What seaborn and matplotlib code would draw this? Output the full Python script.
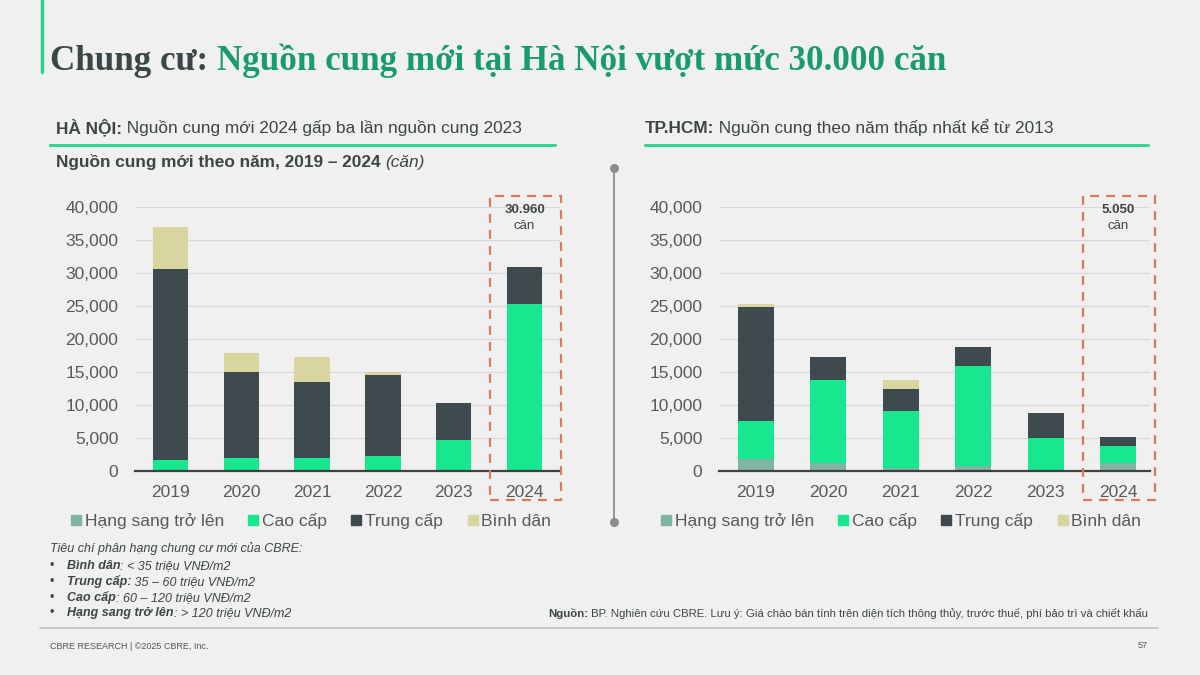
import matplotlib
matplotlib.use("Agg")
import matplotlib.pyplot as plt
import seaborn as sns
import numpy as np
from matplotlib.lines import Line2D
from matplotlib.patches import Rectangle
import matplotlib.transforms as mtrans

# ---------------- data ----------------
years = ["2019", "2020", "2021", "2022", "2023", "2024"]
segments = ["Hạng sang trở lên", "Cao cấp", "Trung cấp", "Bình dân"]
seg_colors = ["#7fb5a2", "#17e88f", "#3e4a4d", "#d8d59e"]

hn_hang_sang = [0, 0, 0, 0, 0, 0]
hn_cao_cap = [1700, 2000, 2000, 2200, 4650, 25300]
hn_trung_cap = [29000, 13000, 11500, 12400, 5600, 5660]
hn_binh_dan = [6300, 2900, 3700, 400, 0, 0]

hcm_hang_sang = [1800, 1100, 400, 700, 0, 1200]
hcm_cao_cap = [5800, 12700, 8600, 15250, 4950, 2550]
hcm_trung_cap = [17300, 3500, 3400, 2800, 3750, 1300]
hcm_binh_dan = [450, 0, 1300, 0, 0, 0]

yticks = [0, 5000, 10000, 15000, 20000, 25000, 30000, 35000, 40000]
hn_total_label = "30.960"
hcm_total_label = "5.050"

# ---------------- style ----------------
sns.set_theme(style="white")
plt.rcParams["font.family"] = ["Liberation Sans", "DejaVu Sans"]

W, H = 1200, 675
fig = plt.figure(figsize=(12, 6.75), dpi=100)
BG = "#f0f0f0"
fig.patch.set_facecolor(BG)

def fx(px):
    return px / W

def fy(py):
    return 1 - py / H

TXT = "#3d4545"
TICK = "#595959"


def draw_chart(ax, layers, xlim, total_label):
    ax.set_facecolor("none")
    cum = np.zeros(len(years))
    cums = []
    for vals in layers:
        cum = cum + np.array(vals, dtype=float)
        cums.append(cum.copy())
    # draw tallest (cumulative) first, then overlay lower segments
    for i in range(len(layers) - 1, -1, -1):
        sns.barplot(x=years, y=cums[i], color=seg_colors[i], width=0.5,
                    saturation=1, errorbar=None, ax=ax, zorder=3,
                    linewidth=0, edgecolor="none")
    ax.set_ylim(0, 40000)
    ax.set_xlim(*xlim)
    ax.set_yticks(yticks)
    ax.set_yticklabels([f"{v:,}" for v in yticks])
    ax.grid(axis="y", color="#d9d9d9", linewidth=0.9, zorder=0)
    ax.grid(axis="x", visible=False)
    for s in ["top", "right", "left"]:
        ax.spines[s].set_visible(False)
    ax.spines["bottom"].set_color("#404040")
    ax.spines["bottom"].set_linewidth(1.6)
    ax.spines["bottom"].set_zorder(4)
    ax.tick_params(axis="y", length=0, pad=12, labelsize=12.5, labelcolor=TICK)
    ax.tick_params(axis="x", length=0, pad=10.5, labelsize=12.5, labelcolor=TICK)
    ax.set_xlabel("")
    ax.set_ylabel("")
    # highlight box around the last year
    idx = len(years) - 1
    trans = mtrans.blended_transform_factory(ax.transData, ax.transAxes)
    rect = Rectangle((idx - 0.49, -0.112), 1.0, 1.155, transform=trans,
                     fill=False, edgecolor="#d9785c", linewidth=1.6,
                     linestyle=(0, (4, 3.2)), clip_on=False, zorder=5)
    ax.add_patch(rect)
    ax.text(idx, 0.99, total_label, transform=trans, ha="center", va="center",
            fontsize=9.5, fontweight="bold", color=TXT)
    ax.text(idx, 0.93, "căn", transform=trans, ha="center", va="center",
            fontsize=9.5, color=TXT)


ax1 = fig.add_axes([fx(135), fy(470.7), 425 / W, 263.4 / H])
draw_chart(ax1, [hn_hang_sang, hn_cao_cap, hn_trung_cap, hn_binh_dan],
           (-0.5, 5.5), hn_total_label)

ax2 = fig.add_axes([fx(719), fy(470.7), 431 / W, 263.4 / H])
draw_chart(ax2, [hcm_hang_sang, hcm_cao_cap, hcm_trung_cap, hcm_binh_dan],
           (-0.51, 5.44), hcm_total_label)

# legends
handles = [Line2D([], [], marker="s", linestyle="none", markersize=7,
                  color=c) for c in seg_colors]
for cx in (310, 900):
    fig.legend(handles, segments, loc="center",
               bbox_to_anchor=(fx(cx), fy(521)), ncol=4, frameon=False,
               fontsize=12.5, handletextpad=0.1, columnspacing=1.3,
               handlelength=0.8, labelcolor=TICK, borderaxespad=0)

# ---------------- title ----------------
fig.add_artist(Line2D([fx(42), fx(42)], [fy(0), fy(72)], color="#2bd68a",
                      linewidth=2.5))
TSIZE = 25.2
t1 = fig.text(fx(50), fy(70), "Chung cư: ", fontsize=TSIZE, fontweight="bold",
              family=["Liberation Serif", "DejaVu Serif"], color="#3b4747",
              va="baseline", ha="left")
fig.canvas.draw()
r = fig.canvas.get_renderer()
bb = t1.get_window_extent(renderer=r)
fig.text(bb.x1 / fig.bbox.width, fy(70),
         "Nguồn cung mới tại Hà Nội vượt mức 30.000 căn", fontsize=TSIZE,
         fontweight="bold", family=["Liberation Serif", "DejaVu Serif"],
         color="#1a9b6e", va="baseline", ha="left")


def two_part(x, y, bold, normal, size):
    a = fig.text(x, y, bold, fontsize=size, fontweight="bold", color=TXT,
                 va="baseline", ha="left")
    fig.canvas.draw()
    b = a.get_window_extent(renderer=fig.canvas.get_renderer())
    c = fig.text(b.x1 / fig.bbox.width, y, normal, fontsize=size,
                 color=TXT, va="baseline", ha="left")
    return c

two_part(fx(56), fy(133), "HÀ NỘI:", " Nguồn cung mới 2024 gấp ba lần nguồn cung 2023", 12.4)
two_part(fx(645), fy(133), "TP.HCM:", " Nguồn cung theo năm thấp nhất kể từ 2013", 12.4)
fig.add_artist(Line2D([fx(50), fx(555)], [fy(145), fy(145)], color="#33d68f",
                      linewidth=2.2))
fig.add_artist(Line2D([fx(645), fx(1148)], [fy(145), fy(145)], color="#33d68f",
                      linewidth=2.2))

s1 = fig.text(fx(56), fy(167), "Nguồn cung mới theo năm, 2019 – 2024 ",
              fontsize=12.4, fontweight="bold", color=TXT, va="baseline")
fig.canvas.draw()
b = s1.get_window_extent(renderer=fig.canvas.get_renderer())
fig.text(b.x1 / fig.bbox.width, fy(167), "(căn)", fontsize=12.4,
         style="italic", color=TXT, va="baseline")

# divider
fig.add_artist(Line2D([fx(614), fx(614)], [fy(168), fy(522)], color="#8c8c8c",
                      linewidth=1.3, marker="o", markersize=5.5,
                      markevery=[0, 1]))

# ---------------- footnotes ----------------
FN = 9
fig.text(fx(50), fy(552), "Tiêu chí phân hạng chung cư mới của CBRE:",
         fontsize=FN, style="italic", color=TXT, va="baseline")
criteria = [("Bình dân", ": < 35 triệu VNĐ/m2"),
            ("Trung cấp:", " 35 – 60 triệu VNĐ/m2"),
            ("Cao cấp", ": 60 – 120 triệu VNĐ/m2"),
            ("Hạng sang trở lên", ": > 120 triệu VNĐ/m2")]
for i, (lab, rest) in enumerate(criteria):
    yy = fy(569 + 15.8 * i)
    fig.text(fx(50), yy, "•", fontsize=FN, color=TXT, va="baseline")
    a = fig.text(fx(67), yy, lab, fontsize=FN, style="italic",
                 fontweight="bold", color=TXT, va="baseline")
    fig.canvas.draw()
    bb = a.get_window_extent(renderer=fig.canvas.get_renderer())
    fig.text(bb.x1 / fig.bbox.width, yy, rest, fontsize=FN, style="italic",
             color=TXT, va="baseline")

src_rest = (" BP. Nghiên cứu CBRE. Lưu ý: Giá chào bán tính trên diện tích "
            "thông thủy, trước thuế, phí bảo trì và chiết khấu")
c = fig.text(fx(1148), fy(617), src_rest, fontsize=8.2, color=TXT,
             va="baseline", ha="right")
fig.canvas.draw()
bb = c.get_window_extent(renderer=fig.canvas.get_renderer())
fig.text(bb.x0 / fig.bbox.width, fy(617), "Nguồn:", fontsize=8.2,
         fontweight="bold", color=TXT, va="baseline", ha="right")

fig.add_artist(Line2D([fx(40), fx(1158)], [fy(628), fy(628)], color="#c4c4c4",
                      linewidth=1.2))
fig.text(fx(50), fy(649), "CBRE RESEARCH | ©2025 CBRE, Inc.", fontsize=6.5,
         color="#555555", va="baseline")
fig.text(fx(1148), fy(648), "57", fontsize=6.5, color="#555555",
         va="baseline", ha="right")

fig.savefig("out.png", dpi=100, facecolor=BG)
